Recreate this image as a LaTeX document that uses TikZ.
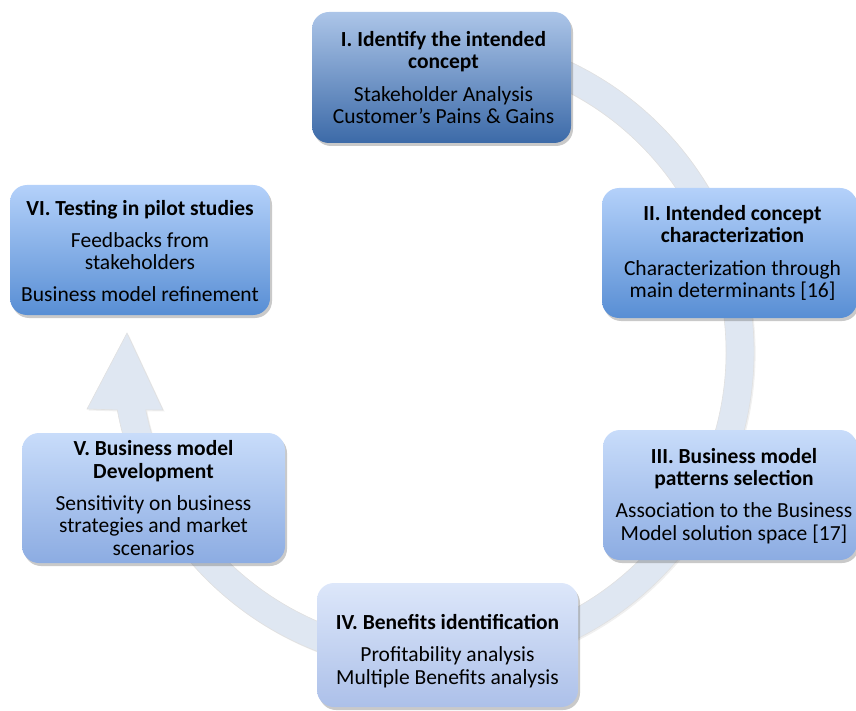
\documentclass[tikz,border=0pt]{standalone}
\usepackage{fontspec}
\setmainfont{Carlito}
\usetikzlibrary{shadows,calc}
\definecolor{bandcol}{RGB}{223,231,242}
\definecolor{aTop}{RGB}{172,197,232}
\definecolor{aBot}{RGB}{60,106,168}
\definecolor{bTop}{RGB}{180,209,250}
\definecolor{bBot}{RGB}{88,142,212}
\definecolor{cTop}{RGB}{200,220,250}
\definecolor{cBot}{RGB}{140,172,226}
\definecolor{dTop}{RGB}{221,231,250}
\definecolor{dBot}{RGB}{172,192,233}
\tikzset{
  stagebox/.style={rounded corners=17pt, inner sep=0pt,
    drop shadow={opacity=0.3, shadow xshift=2pt, shadow yshift=-3pt, fill=black!70}},
  darkbox/.style={stagebox, top color=aTop, bottom color=aBot},
  midbox/.style={stagebox, top color=bTop, bottom color=bBot},
  litebox/.style={stagebox, top color=cTop, bottom color=cBot},
  palebox/.style={stagebox, top color=dTop, bottom color=dBot},
  stagetext/.style={align=center, inner sep=0pt, text=black, font=\fontsize{21.5}{22.3}\selectfont},
}
\begin{document}
\begin{tikzpicture}[x=1pt,y=-1pt]
\useasboundingbox (0,0) rectangle (856,711);
% circular band arrow
\coordinate (ctr) at (433,352);
\coordinate (hl) at (87,409);
\coordinate (ht) at (127,333);
\coordinate (hr) at (163,410);
\fill[bandcol, draw=black!12, line width=0.6pt,
  drop shadow={opacity=0.12, shadow xshift=1.5pt, shadow yshift=-1.5pt}]
  ($(ctr)+(-75:321)$) arc[start angle=-75, end angle=169.6, radius=321]
  -- (hl) -- (ht) -- (hr)
  -- ($(ctr)+(168.6:293)$) arc[start angle=168.6, end angle=-75, radius=293] -- cycle;
% boxes
\node[darkbox, minimum width=259pt, minimum height=131pt] (b1) at (441.5,77.5) {};
\node[stagetext] (t1) at ([xshift=2pt]b1.center) {\textbf{I. Identify the intended}\\\textbf{concept}\\[10pt]Stakeholder Analysis\\Customer’s Pains \& Gains};

\node[midbox, minimum width=255pt, minimum height=130pt] (b2) at (729.5,253) {};
\node[stagetext] (t2) at ([xshift=3pt]b2.center) {\textbf{II. Intended concept}\\\textbf{characterization}\\[10pt]Characterization through\\main determinants [16]};

\node[litebox, minimum width=254pt, minimum height=130pt] (b3) at (730,495) {};
\node[stagetext] (t3) at ([xshift=4pt,yshift=-1pt]b3.center) {\textbf{III. Business model}\\\textbf{patterns selection}\\[10pt]Association to the Business\\Model solution space [17]};

\node[palebox, minimum width=261pt, minimum height=124pt] (b4) at (447.5,645) {};
\node[stagetext] (t4) at ([yshift=-6pt]b4.center) {\textbf{IV. Benefits identification}\\[10pt]Profitability analysis\\Multiple Benefits analysis};

\node[litebox, minimum width=263pt, minimum height=130pt] (b5) at (153.5,498) {};
\node[stagetext] (t5) at (b5.center) {\textbf{V. Business model}\\\textbf{Development}\\[10pt]Sensitivity on business\\strategies and market\\scenarios};

\node[midbox, minimum width=260pt, minimum height=130pt] (b6) at (140,250) {};
\node[stagetext] (t6) at ([yshift=-1pt]b6.center) {\textbf{VI. Testing in pilot studies}\\[10pt]Feedbacks from\\stakeholders\\[10pt]Business model refinement};
\end{tikzpicture}
\end{document}
